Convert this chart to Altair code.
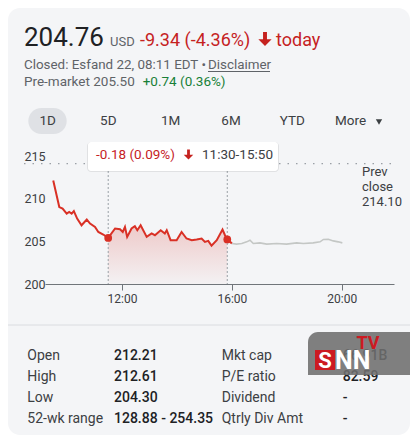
import altair as alt
import pandas as pd

# ---------------- data ----------------
red_t = [9.5, 9.72, 9.84, 9.99, 10.08, 10.17, 10.25, 10.37, 10.53, 10.72, 10.84, 11.02, 11.14, 11.32,
         11.5, 11.75, 11.93, 12.03, 12.11, 12.19, 12.35, 12.47, 12.56, 12.68, 12.90, 13.08, 13.20,
         13.41, 13.56, 13.63, 13.77, 13.99, 14.17, 14.35, 14.54, 14.72, 14.90, 15.02, 15.14, 15.26,
         15.45, 15.66, 15.75, 15.833, 16.0]
red_p = [212.14, 209.02, 208.83, 208.25, 208.44, 208.25, 208.55, 207.67, 206.88, 207.55, 207.08,
         206.69, 206.10, 205.80, 205.40, 206.50, 206.42, 206.10, 206.69, 205.52, 206.50, 206.77,
         206.30, 206.88, 205.52, 205.92, 205.72, 206.30, 205.92, 206.30, 205.13, 205.13, 206.10,
         205.33, 205.13, 205.22, 205.33, 204.94, 205.05, 204.50, 205.13, 206.38, 205.72, 205.22, 204.76]
gray_t = [16.0, 16.17, 16.36, 16.54, 16.66, 16.78, 17.02, 17.27, 17.63, 17.99, 18.36, 18.60, 18.96,
          19.21, 19.33, 19.51, 19.69, 19.87, 20.02]
gray_p = [204.75, 204.67, 204.75, 204.94, 205.13, 204.75, 204.82, 204.67, 204.75, 204.67, 204.82,
          204.75, 204.82, 204.94, 205.22, 205.25, 205.05, 204.94, 204.82]
sel_start, sel_end = 11.5, 15.833
prev_close = 214.10
y_ticks = [200, 205, 210, 215]
x_ticks = [12, 16, 20]

price_text = "204.76"
currency = "USD"
change_text = "-9.34 (-4.36%)"
today_text = "today"
closed_text = "Closed: Esfand 22, 08:11 EDT \u2022"
disclaimer_text = "Disclaimer"
pre_text = "Pre-market 205.50"
pre_change = "+0.74 (0.36%)"
tabs = ["1D", "5D", "1M", "6M", "YTD", "More"]
tip_change = "-0.18 (0.09%)"
tip_range = "11:30-15:50"
prev_lines = ["Prev", "close", "214.10"]
stat_labels_1 = ["Open", "High", "Low", "52-wk range"]
stat_values_1 = ["212.21", "212.61", "204.30", "128.88 - 254.35"]
stat_labels_2 = ["Mkt cap", "P/E ratio", "Dividend", "Qtrly Div Amt"]
stat_values_2 = ["66.91B", "82.59", "-", "-"]

RED = "#d93025"
TRED = "#c5221f"
GRAY = "#5f6368"
DARK = "#3c4043"
CARD = "#f4f5f7"
FONT = "Roboto"

red_df = pd.DataFrame({"t": red_t, "p": red_p})
gray_df = pd.DataFrame({"t": gray_t, "p": gray_p})
area_df = red_df[(red_df.t >= sel_start) & (red_df.t <= sel_end)]
dots_df = red_df[red_df.t.isin([sel_start, sel_end])]
one = pd.DataFrame({"a": [0]})

xs = alt.Scale(domain=[9.2, 21.9], nice=False, zero=False)
ys = alt.Scale(domain=[200, 215], nice=False, zero=False)
xaxis = alt.Axis(values=x_ticks, labelExpr="datum.value + ':00'", tickSize=6, tickColor="#70757a",
                 domainColor="#70757a", labelFontSize=12, labelColor=DARK, labelPadding=3,
                 grid=False, title=None, labelFlush=False, labelFont=FONT, zindex=1)
yaxis = alt.Axis(values=y_ticks, ticks=False, tickSize=0, domain=False, grid=False, labelAlign="left",
                 labelPadding=21, labelFontSize=12.5, labelColor=DARK, title=None, labelFont=FONT,
                 labelBaseline="middle", zindex=1)


def txt(text, x, y, size=13, color=DARK, weight="normal", align="left", baseline="middle"):
    return alt.Chart(one).mark_text(text=text, x=x, y=y, fontSize=size, color=color, font=FONT,
                                    fontWeight=weight, align=align, baseline=baseline)


def box(x, x2, y, y2, fill, radius=0, opacity=1.0, **kw):
    return alt.Chart(one).mark_rect(fill=fill, cornerRadius=radius, opacity=opacity, **kw).encode(
        x=alt.value(x), x2=alt.value(x2), y=alt.value(y), y2=alt.value(y2))


layers = []
# card background
layers.append(box(-37, 365, -148, 279, CARD, radius=12))

# header
layers.append(txt(price_text, -21, -110, size=26, color="#202124", baseline="alphabetic"))
layers.append(txt(currency, 65, -110, size=13, color=GRAY, baseline="alphabetic"))
layers.append(txt(change_text, 95, -110, size=18, color=TRED, baseline="alphabetic"))
arrow = "M-0.28,-1 L0.28,-1 L0.28,0.05 L0.95,0.05 L0,1 L-0.95,0.05 L-0.28,0.05 Z"
layers.append(alt.Chart(one).mark_point(shape=arrow, filled=True, color=TRED, opacity=1, size=196)
              .encode(x=alt.value(220), y=alt.value(-117)))
layers.append(txt(today_text, 231, -110, size=18, color=TRED, baseline="alphabetic"))
layers.append(txt(closed_text, -21, -87, size=13.4, color=GRAY, baseline="alphabetic"))
layers.append(txt(disclaimer_text, 163, -87, size=13.4, color=GRAY, baseline="alphabetic"))
layers.append(alt.Chart(one).mark_rule(color=GRAY, strokeWidth=1).encode(
    x=alt.value(163), x2=alt.value(225), y=alt.value(-84.5)))
layers.append(txt(pre_text, -21, -70, size=13.5, color=GRAY, baseline="alphabetic"))
layers.append(txt(pre_change, 97.7, -70, size=13.5, color="#188038", baseline="alphabetic"))

# tabs
layers.append(box(-16.7, 21.7, -48, -22, "#dfe1e5", radius=13))
tab_x = [2.7, 63.3, 125.7, 186, 247.3, 290]
for lab, tx in zip(tabs, tab_x):
    layers.append(txt(lab, tx, -35, size=13.5, color=DARK, align="center" if lab != "More" else "left"))
layers.append(alt.Chart(one).mark_point(shape="triangle-down", filled=True, color=DARK, opacity=1, size=40)
              .encode(x=alt.value(334), y=alt.value(-34)))

# chart
base = alt.Chart(red_df)
area = alt.Chart(area_df).mark_area(
    color=alt.Gradient(gradient="linear",
                       stops=[alt.GradientStop(color="rgba(217,48,37,0.22)", offset=0),
                              alt.GradientStop(color="rgba(217,48,37,0.02)", offset=1)],
                       x1=1, x2=1, y1=0, y2=1)
).encode(x=alt.X("t:Q", scale=xs, axis=xaxis), y=alt.Y("p:Q", scale=ys, axis=yaxis), y2=alt.datum(200))
layers.append(area)
layers.append(alt.Chart(one).mark_rule(color="#9aa0a6", strokeWidth=1.3, strokeDash=[1.5, 7]).encode(
    x=alt.value(-21), x2=alt.value(347), y=alt.datum(prev_close, scale=ys)))
vr = pd.DataFrame({"t": [sel_start, sel_end]})
layers.append(alt.Chart(vr).mark_rule(color="#9aa0a6", strokeWidth=1, strokeDash=[2, 2]).encode(
    x=alt.X("t:Q", scale=xs), y=alt.value(15), y2=alt.value(128)))
layers.append(alt.Chart(gray_df).mark_line(color="#c4c7c5", strokeWidth=1.6).encode(
    x=alt.X("t:Q", scale=xs), y=alt.Y("p:Q", scale=ys)))
layers.append(base.mark_line(color=RED, strokeWidth=2).encode(
    x=alt.X("t:Q", scale=xs), y=alt.Y("p:Q", scale=ys)))
layers.append(alt.Chart(dots_df).mark_circle(color=RED, opacity=1, size=60).encode(
    x=alt.X("t:Q", scale=xs), y=alt.Y("p:Q", scale=ys)))
for i, line in enumerate(prev_lines):
    layers.append(txt(line, 317, 15.7 + 15.3 * i, size=13, color=DARK))

# tooltip
layers.append(box(42, 234, -14, 16, "#000000", radius=4, opacity=0.08))
layers.append(box(43, 233, -14, 15, "#ffffff", radius=3))
layers.append(txt(tip_change, 51, -1, size=13.5, color=TRED))
layers.append(alt.Chart(one).mark_point(shape=arrow, filled=True, color=TRED, opacity=1, size=100)
              .encode(x=alt.value(143.5), y=alt.value(-1.5)))
layers.append(txt(tip_range, 157, -1, size=13.5, color=DARK))

# separator
layers.append(alt.Chart(one).mark_rule(color="#dadce0", strokeWidth=1).encode(
    x=alt.value(-37), x2=alt.value(365), y=alt.value(169)))

# stats table
row_y = [200, 221, 242, 263]
for lab, val, yy in zip(stat_labels_1, stat_values_1, row_y):
    layers.append(txt(lab, -17.7, yy, size=14, color=DARK))
    layers.append(txt(val, 69, yy, size=14, color="#202124", weight=500))
for lab, val, yy in zip(stat_labels_2, stat_values_2, row_y):
    layers.append(txt(lab, 176.7, yy, size=14, color=DARK))
    layers.append(txt(val, 297.7, yy, size=14, color="#202124", weight=500))

# watermark logo
layers.append(alt.Chart(one).mark_rect(fill="#6e6e6e", opacity=0.88, cornerRadiusTopLeft=10).encode(
    x=alt.value(263), x2=alt.value(365), y=alt.value(176), y2=alt.value(219)))
layers.append(box(270, 290, 194, 214, "#cc1a22"))
layers.append(txt("S", 280, 205, size=22, color="#ffffff", weight="bold", align="center"))
layers.append(txt("NN", 290, 205, size=25, color="#ffffff", weight="bold"))
layers.append(txt("TV", 323, 188, size=18, color="#cc1a22", weight="bold", align="center"))

chart = alt.layer(*layers).properties(
    width=349, height=128,
    padding={"left": 37, "top": 148, "right": 16, "bottom": 151},
    autosize=alt.AutoSizeParams(type="none"),
    background="#ffffff",
).configure_view(strokeWidth=0).configure(font=FONT)

chart.save("out.html", embed_options={"renderer": "svg", "actions": False})
